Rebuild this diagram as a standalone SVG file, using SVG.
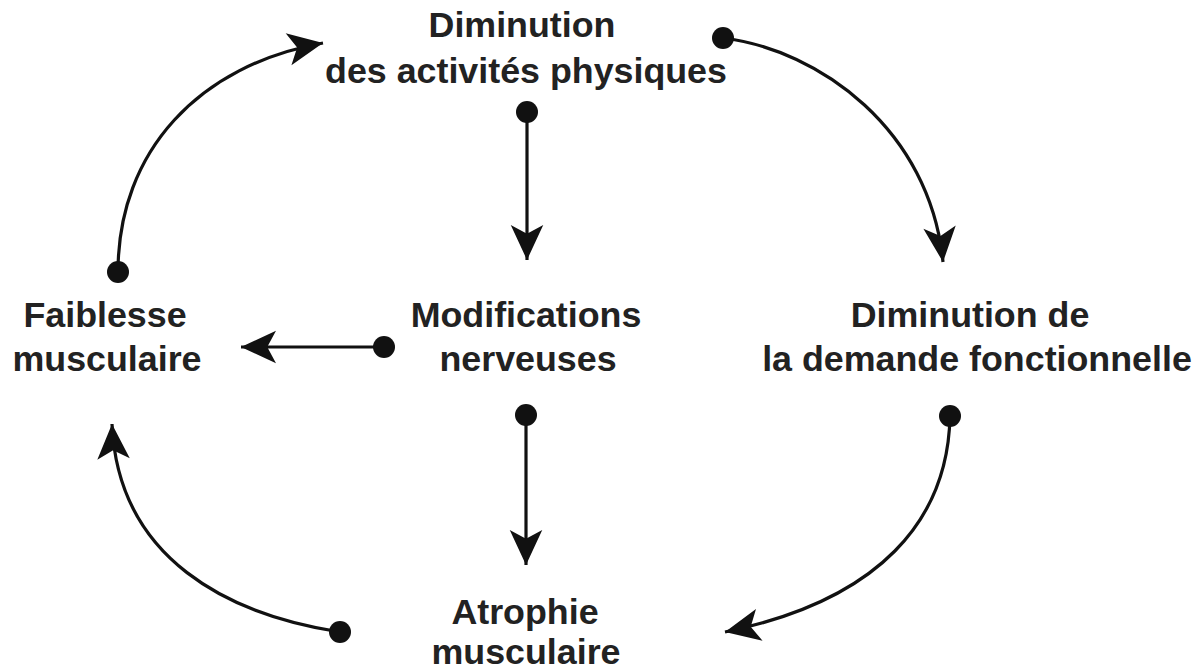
<svg xmlns="http://www.w3.org/2000/svg" width="1201" height="672" viewBox="0 0 1201 672">
<style>
text{font-family:"Liberation Sans",Arial,sans-serif;font-weight:bold;font-size:35.8px;fill:#222;text-anchor:middle}
.c{fill:none;stroke:#111;stroke-width:3.2}
.d{fill:#111}
</style>
<defs>
<marker id="ah" markerUnits="userSpaceOnUse" markerWidth="40" markerHeight="40" viewBox="-30 -15 32 30" refX="0" refY="0" orient="auto">
<path d="M0,0 L-28,-13 L-21,0 L-28,13 Z" fill="#111"/>
</marker>
</defs>
<rect width="1201" height="672" fill="#fff"/>
<g id="n-diminution-activites">
<text x="522" y="37">Diminution</text>
<text x="526" y="83">des activités physiques</text>
</g>
<g id="n-modifications">
<text x="526" y="327">Modifications</text>
<text x="528" y="371">nerveuses</text>
</g>
<g id="n-faiblesse">
<text x="105" y="327">Faiblesse</text>
<text x="107" y="371">musculaire</text>
</g>
<g id="n-demande">
<text x="970" y="327">Diminution de</text>
<text x="977" y="371">la demande fonctionnelle</text>
</g>
<g id="n-atrophie">
<text x="525" y="624">Atrophie</text>
<text x="526" y="664">musculaire</text>
</g>
<g id="connectors">
<path class="c" d="M723,38 C820,50 930,130 943,262" marker-end="url(#ah)"/>
<path class="c" d="M527,112 L527,260" marker-end="url(#ah)"/>
<path class="c" d="M384,347 L241,347" marker-end="url(#ah)"/>
<path class="c" d="M526,415 L526,565" marker-end="url(#ah)"/>
<path class="c" d="M950,416 C948,520 880,600 725,632" marker-end="url(#ah)"/>
<path class="c" d="M340,632 C230,615 118,560 112,424" marker-end="url(#ah)"/>
<path class="c" d="M118,272 C118,150 200,65 323,43" marker-end="url(#ah)"/>
<circle class="d" cx="723" cy="38" r="11"/>
<circle class="d" cx="527" cy="112" r="11"/>
<circle class="d" cx="384" cy="347" r="11"/>
<circle class="d" cx="526" cy="415" r="11"/>
<circle class="d" cx="950" cy="416" r="11"/>
<circle class="d" cx="340" cy="632" r="11"/>
<circle class="d" cx="118" cy="272" r="11"/>
</g>
</svg>
